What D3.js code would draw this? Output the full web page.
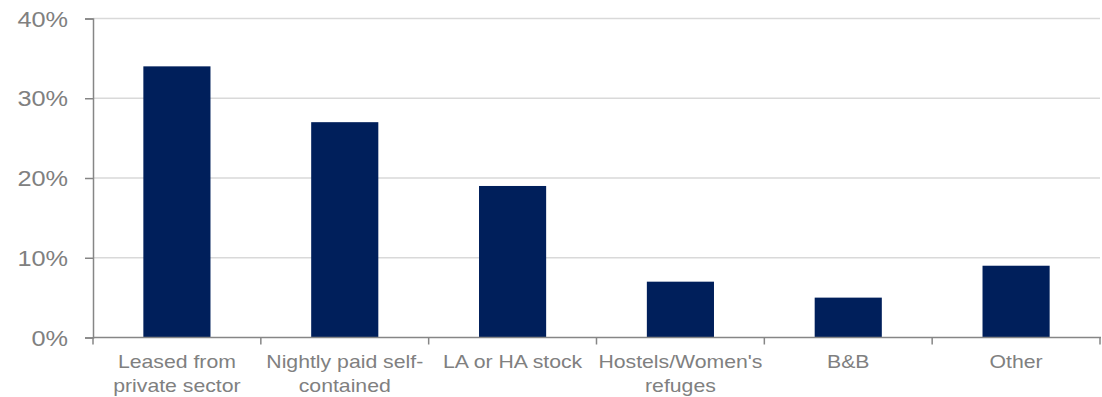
<!DOCTYPE html>
<html><head><meta charset="utf-8">
<script src="https://cdn.jsdelivr.net/npm/d3@7"></script>
<style>body{margin:0;background:#fff}svg{display:block}text{font-family:"Liberation Sans",Arial,sans-serif}</style>
</head><body>
<svg id="c" width="1102" height="397"></svg>
<script>
const categories = [["Leased from","private sector"],["Nightly paid self-","contained"],["LA or HA stock"],["Hostels/Women's","refuges"],["B&B"],["Other"]];
const values = [34, 27, 19, 7, 5, 9];
const yTicks = [0, 10, 20, 30, 40];

const svg = d3.select("#c");
const mLeft = 93, mRight = 1100, mTop = 18.5, mBottom = 337.5;
const keys = categories.map((c,i)=>i);
const x = d3.scaleBand().domain(keys).range([mLeft, mRight]).paddingInner(0.6).paddingOuter(0.3);
const y = d3.scaleLinear().domain([0, 40]).range([mBottom, mTop]);

// gridlines
svg.append("g").selectAll("line").data(yTicks.filter(d=>d>0)).join("line")
  .attr("x1", mLeft).attr("x2", mRight).attr("y1", d=>y(d)).attr("y2", d=>y(d))
  .attr("stroke", "#d9d9d9").attr("stroke-width", 1.5);

// bars
svg.append("g").selectAll("rect").data(values).join("rect")
  .attr("x", (d,i)=>x(i)).attr("width", x.bandwidth())
  .attr("y", d=>y(d)).attr("height", d=>y(0)-y(d))
  .attr("fill", "#001f5b");

// y axis
const sy = 1.15;
const yAxis = svg.append("g").attr("transform", `translate(${mLeft},0)`)
  .call(d3.axisLeft(y).tickValues(yTicks).tickFormat(d=>d+"%").tickSize(8).tickPadding(17));
yAxis.select(".domain").attr("stroke", "#868686").attr("stroke-width", 1.5);
yAxis.selectAll(".tick line").attr("stroke", "#868686").attr("stroke-width", 1.5);
yAxis.selectAll(".tick text").attr("fill", "#808080").style("font-size", "22px").attr("dy", "0.35em")
  .attr("x", -25/sy).attr("transform", `scale(${sy},1)`);

// x axis line
svg.append("line").attr("x1", mLeft).attr("x2", mRight+1).attr("y1", mBottom).attr("y2", mBottom)
  .attr("stroke", "#868686").attr("stroke-width", 1.5);
// x boundary ticks
const step = x.step();
const bounds = d3.range(categories.length + 1).map(i => x(0) - x.bandwidth()*0.75 + i*step);
svg.append("g").selectAll("line").data(bounds).join("line")
  .attr("x1", d=>d).attr("x2", d=>d).attr("y1", mBottom).attr("y2", mBottom+7)
  .attr("stroke", "#868686").attr("stroke-width", 1.5);

// x labels
const sx = 1.18;
const xl = svg.append("g").selectAll("text").data(categories).join("text")
  .attr("transform", (d,i)=>`translate(${x(i)+x.bandwidth()/2},368) scale(${sx},1)`)
  .attr("text-anchor", "middle").attr("fill", "#808080").style("font-size", "18px");
xl.selectAll("tspan").data(d=>d).join("tspan")
  .attr("x", 0).attr("dy", (d,i)=>i===0?0:24).text(d=>d);
</script>
</body></html>
